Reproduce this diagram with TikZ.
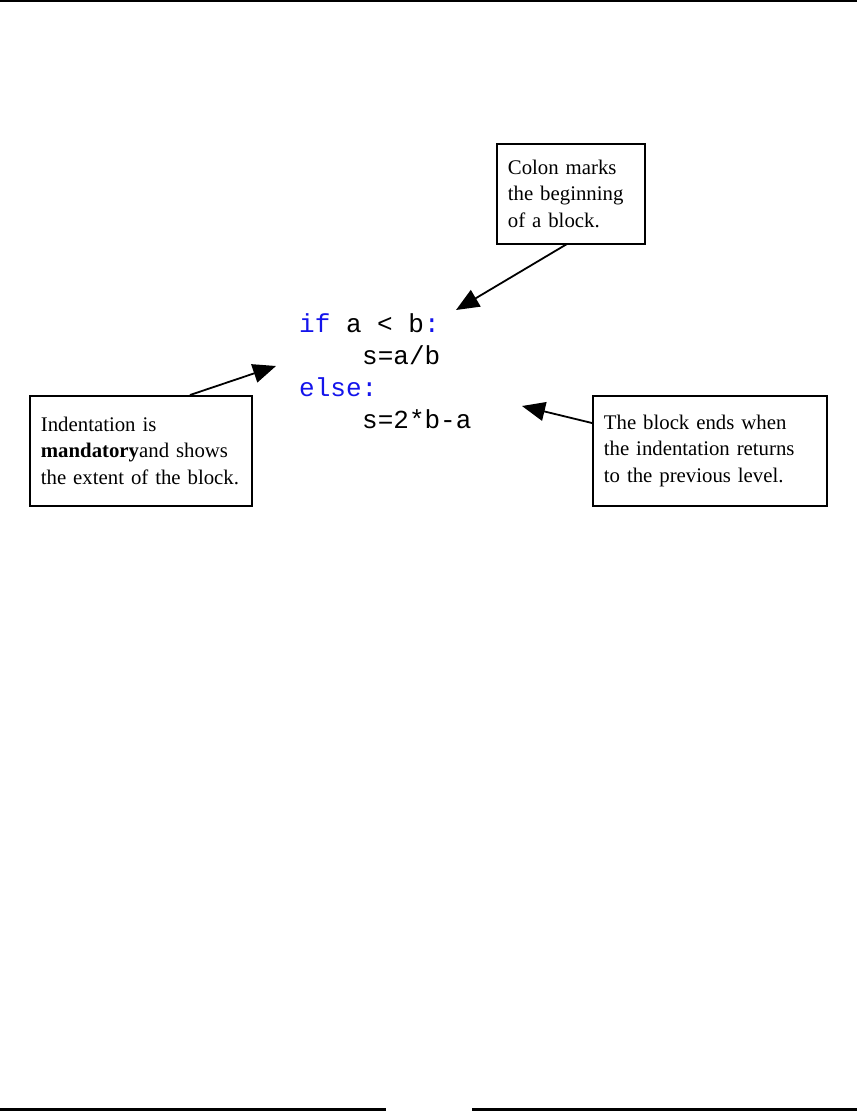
\documentclass[tikz,border=0pt]{standalone}
\usepackage{fontspec}
\setmainfont{Liberation Serif}
\newfontfamily\codefont{Liberation Mono}
\usetikzlibrary{arrows.meta}
\tikzset{
  note/.style={draw=black, line width=1.8pt, rectangle, align=left, inner sep=0pt,
    font=\fontsize{20.8}{26.3}\selectfont, anchor=north west},
  code/.style={font=\codefont\fontsize{26}{32}\selectfont, anchor=base west, inner sep=0pt},
  pointer/.style={line width=1.8pt, -{Triangle[length=23pt,width=19pt]}},
  rule/.style={line width=2pt}
}
\definecolor{kw}{RGB}{20,20,235}
\begin{document}
\begin{tikzpicture}[x=1pt,y=-1pt]
\useasboundingbox (0,0) rectangle (857,1112);
\draw[rule] (0,1) -- (857,1);
\draw[line width=3pt] (0,1109.5) -- (386,1109.5);
\draw[line width=3pt] (472,1109.5) -- (857,1109.5);

% code
\node[code] (l1) at (299,332) {\textcolor{kw}{if} a < b\textcolor{kw}{:}};
\node[code] (l2) at (362,364) {s=a/b};
\node[code] (l3) at (299,396) {\textcolor{kw}{else:}};
\node[code] (l4) at (362,428) {s=2*b-a};

% notes
\node[note, minimum width=148pt, minimum height=100pt, text width=126pt] (colon) at (496,143) {Colon marks\\the beginning\\of a block.};
\node[note, minimum width=222pt, minimum height=110pt, text width=200pt] (indent) at (29,395) {Indentation is\\\textbf{mandatory}and shows\\the extent of the block.};
\node[note, minimum width=234pt, minimum height=110pt, text width=212pt] (ends) at (592,395) {The block ends when\\the indentation returns\\to the previous level.};

\coordinate (tcolon) at (456,310);
\coordinate (tindent) at (276,366);
\coordinate (tends) at (522,406);
\coordinate (scolon) at (567,244);
\coordinate (sindent) at (190,395);
\coordinate (sends) at (592,423);

\draw[pointer] (scolon) -- (tcolon);
\draw[pointer] (sindent) -- (tindent);
\draw[pointer] (sends) -- (tends);
\end{tikzpicture}
\end{document}
